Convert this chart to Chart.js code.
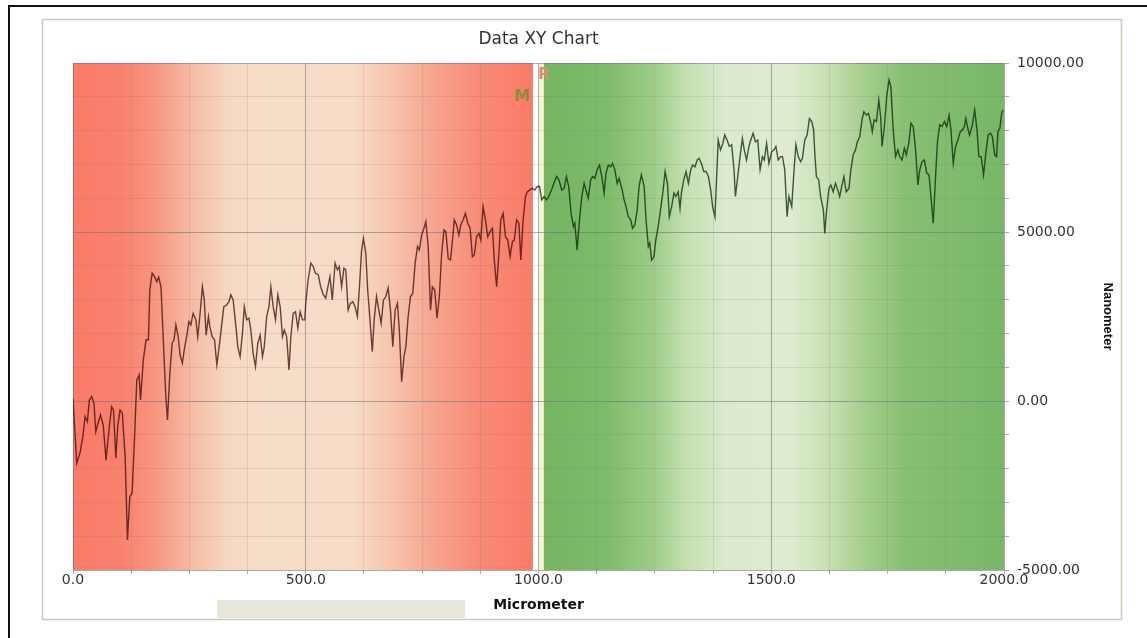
<!DOCTYPE html>
<html>
<head>
<meta charset="utf-8">
<script src="https://cdn.jsdelivr.net/npm/chart.js@4.4.1/dist/chart.umd.min.js"></script>
<style>
  html, body { margin: 0; padding: 0; background: #fff; }
  canvas { display: block; }
</style>
</head>
<body>
<canvas id="chart--xy" width="1147" height="638"></canvas>
<script>
// profile samples: position along the scan (micrometer) and height (nanometer)
const positions = [
  0, 8, 15, 21, 26, 31, 35, 40, 45, 49, 54, 59, 65, 71, 78, 83, 87, 92, 96, 101,
  106, 112, 117, 122, 127, 132, 137, 142, 145, 151, 157, 162, 165, 170, 175, 180, 184, 189, 194, 199,
  203, 208, 213, 217, 221, 226, 230, 235, 239, 244, 249, 253, 258, 264, 268, 273, 278, 282, 286, 291,
  294, 299, 304, 309, 314, 319, 324, 330, 335, 339, 344, 350, 354, 359, 364, 368, 373, 378, 382, 387,
  392, 397, 402, 407, 411, 416, 421, 425, 430, 435, 440, 445, 450, 454, 459, 464, 468, 473, 478, 483,
  488, 493, 498, 500, 505, 511, 516, 521, 527, 532, 538, 543, 547, 552, 557, 563, 568, 572, 577, 582,
  586, 591, 596, 601, 606, 611, 615, 620, 624, 629, 633, 638, 643, 647, 652, 657, 662, 667, 672, 677,
  682, 687, 692, 697, 701, 706, 711, 715, 720, 725, 730, 735, 740, 744, 749, 754, 758, 763, 768, 772,
  777, 782, 787, 792, 797, 801, 806, 811, 816, 819, 824, 829, 833, 838, 843, 848, 853, 858, 862, 867,
  872, 876, 881, 886, 891, 896, 901, 905, 910, 915, 919, 924, 929, 934, 939, 944, 948, 953, 958, 962,
  967, 972, 976, 981, 986, 992, 997, 1002, 1007, 1012, 1017, 1022, 1028, 1033, 1039, 1044, 1050, 1055, 1060, 1065,
  1070, 1075, 1078, 1083, 1088, 1093, 1098, 1102, 1107, 1112, 1116, 1121, 1126, 1131, 1136, 1141, 1145, 1150, 1155, 1159,
  1164, 1169, 1173, 1179, 1184, 1188, 1193, 1198, 1202, 1207, 1212, 1216, 1221, 1227, 1231, 1236, 1239, 1243, 1248, 1252,
  1257, 1262, 1267, 1272, 1277, 1281, 1286, 1291, 1295, 1300, 1304, 1307, 1312, 1317, 1322, 1327, 1331, 1336, 1341, 1345,
  1350, 1355, 1360, 1365, 1370, 1374, 1379, 1383, 1386, 1391, 1396, 1400, 1405, 1410, 1415, 1420, 1423, 1428, 1433, 1438,
  1442, 1447, 1452, 1456, 1461, 1466, 1471, 1476, 1481, 1485, 1490, 1495, 1501, 1506, 1510, 1515, 1520, 1524, 1529, 1534,
  1538, 1544, 1549, 1553, 1558, 1563, 1567, 1572, 1577, 1582, 1587, 1591, 1594, 1597, 1602, 1606, 1612, 1615, 1619, 1624,
  1628, 1633, 1638, 1643, 1647, 1652, 1656, 1661, 1667, 1671, 1676, 1681, 1685, 1690, 1695, 1699, 1704, 1709, 1714, 1717,
  1721, 1726, 1731, 1735, 1738, 1743, 1748, 1753, 1757, 1762, 1767, 1772, 1776, 1781, 1786, 1790, 1796, 1800, 1805, 1810,
  1815, 1819, 1824, 1829, 1834, 1839, 1843, 1848, 1853, 1857, 1862, 1867, 1872, 1877, 1882, 1886, 1891, 1896, 1901, 1906,
  1911, 1915, 1918, 1923, 1926, 1932, 1937, 1942, 1946, 1951, 1956, 1961, 1966, 1971, 1975, 1980, 1984, 1987, 1991, 1995,
  1998
]
const heights = [
  80, -1840, -1540, -1060, -460, -610, 30, 130, -60, -910, -650, -410, -710, -1750, -760, -170, -270, -1690, -760, -270,
  -360, -1650, -4110, -2830, -2720, -1150, 620, 770, 30, 1210, 1810, 1810, 3290, 3780, 3680, 3530, 3660, 3380, 1810, 230,
  -560, 820, 1710, 1810, 2250, 1900, 1360, 1120, 1510, 1900, 2350, 2250, 2590, 2400, 1900, 2590, 3380, 2990, 1950, 2500,
  2200, 1900, 1810, 1070, 1610, 2200, 2790, 2840, 2940, 3140, 2990, 2200, 1610, 1310, 2000, 2790, 2400, 2450, 2100, 1410,
  1020, 1710, 1950, 1310, 1610, 2500, 2790, 3380, 2790, 2400, 3140, 2790, 1900, 2100, 1900, 920, 1900, 2590, 2640, 2150,
  2640, 2400, 2400, 2890, 3580, 4080, 3980, 3780, 3730, 3380, 3140, 3040, 3340, 3680, 2990, 4080, 3880, 3980, 3380, 3930,
  3880, 2690, 2890, 2940, 2790, 2500, 3290, 4470, 4810, 4370, 3290, 2400, 1460, 2400, 3090, 2690, 2300, 2990, 3090, 3340,
  2690, 1610, 2690, 2890, 2100, 570, 1310, 1610, 2500, 3090, 3190, 4080, 4570, 4470, 4910, 5110, 5310, 4570, 2690, 3380,
  3290, 2450, 3090, 4370, 5060, 5010, 4220, 4170, 4860, 5360, 5210, 4910, 5210, 5360, 5550, 5260, 5110, 4270, 4320, 4860,
  4960, 4760, 5750, 5360, 4860, 5010, 5110, 4170, 3380, 4370, 5360, 5550, 4860, 4760, 4270, 4720, 4760, 5360, 5260, 4170,
  5360, 6050, 6190, 6240, 6290, 6240, 6340, 6360, 5950, 6050, 5950, 6050, 6240, 6440, 6640, 6540, 6240, 6290, 6640, 6340,
  5550, 5160, 5260, 4470, 5360, 6050, 6440, 6240, 6000, 6540, 6640, 6590, 6840, 6980, 6640, 6150, 6740, 6980, 6930, 7030,
  6840, 6440, 6590, 6290, 5950, 5750, 5450, 5360, 5110, 5210, 5650, 6340, 6690, 6340, 5360, 4570, 4670, 4170, 4270, 4760,
  5160, 5650, 6150, 6790, 6440, 5450, 5750, 6150, 6050, 6190, 5700, 6150, 6540, 6790, 6440, 6840, 6980, 6930, 7130, 7180,
  7030, 6790, 6790, 6640, 6240, 5750, 5450, 6740, 7720, 7430, 7620, 7870, 7720, 7530, 7580, 6840, 6050, 6640, 7230, 7770,
  7430, 7130, 7530, 7720, 7920, 7670, 7720, 6840, 7230, 7130, 7620, 7030, 7380, 7430, 7530, 7130, 7230, 7230, 6840, 5450,
  6050, 5750, 6840, 7580, 7230, 7080, 7180, 7720, 7870, 8360, 8270, 8020, 7230, 6640, 6540, 6050, 5650, 4960, 5650, 6290,
  6390, 6190, 6440, 6240, 6050, 6390, 6640, 6190, 6290, 6840, 7280, 7430, 7670, 7820, 8320, 8560, 8460, 8510, 8220, 7970,
  8320, 8270, 8910, 8410, 7530, 8120, 9010, 9500, 9300, 8020, 7230, 7430, 7230, 7130, 7480, 7280, 7670, 8220, 8120, 7430,
  6390, 6840, 7080, 7130, 6740, 6690, 6050, 5260, 6640, 7670, 8170, 8120, 8270, 8120, 8460, 8020, 7030, 7530, 7720, 7970,
  8020, 8120, 8360, 8020, 7870, 8170, 8610, 8020, 7230, 7230, 6690, 7330, 7870, 7920, 7820, 7280, 7230, 7970, 8070, 8510,
  8610
]

// x ranges of the two shaded zones and the marker gap between them
const redZone = [0, 988]
const greenZone = [1011, 2000]
const creamStrip = [1001, 1011]

// gradient stops along x for each zone
const redStops = [
  [0, '#fa7b68'], [100, '#f9816e'], [170, '#f7937e'], [250, '#f6b9a1'], [330, '#f6d7c1'],
  [400, '#f6ddc7'], [600, '#f6dcc6'], [680, '#f6c6ae'], [770, '#f7a690'], [870, '#f88b77'], [988, '#fa7c68']
]
const greenStops = [
  [1011, '#74b562'], [1140, '#7cbb69'], [1240, '#9acb85'], [1320, '#c6e0b2'], [1400, '#dbe9cc'],
  [1540, '#deebcf'], [1620, '#c9e0b4'], [1700, '#a4ce8d'], [1790, '#87c073'], [2000, '#78b767']
]

const markers = [
  { text: 'M', x: 982, y: 9000, color: '#8d8b3b', align: 'right' },
  { text: 'R', x: 999, y: 9640, color: '#df8d72', align: 'left' }
]

const chartTitle = 'Data XY Chart'

Chart.defaults.font.family = "'DejaVu Sans', 'Liberation Sans', Arial, sans-serif"
Chart.defaults.color = '#333'

var points = positions.map(function (x, i) { return { x: x, y: heights[i] } })

function zoneGradient(ctx, xs, stops) {
  var x0 = xs.getPixelForValue(stops[0][0])
  var x1 = xs.getPixelForValue(stops[stops.length - 1][0])
  var g = ctx.createLinearGradient(x0, 0, x1, 0)
  var span = stops[stops.length - 1][0] - stops[0][0]
  stops.forEach(function (s) { g.addColorStop((s[0] - stops[0][0]) / span, s[1]) })
  return g
}

function fillZone(ctx, xs, area, range) {
  var x0 = xs.getPixelForValue(range[0])
  var x1 = xs.getPixelForValue(range[1])
  ctx.fillRect(x0, area.top, x1 - x0, area.bottom - area.top)
}

// frame, panel, shaded zones and the scroll thumb under the chart
const backdrop = {
  id: 'backdrop',
  beforeDraw(chart) {
    const ctx = chart.ctx
    const area = chart.chartArea
    const xs = chart.scales.x
    ctx.save()
    ctx.fillStyle = '#fff'
    ctx.fillRect(0, 0, chart.width, chart.height)

    ctx.strokeStyle = '#111'
    ctx.lineWidth = 2
    ctx.strokeRect(9, 6, 1170, 700)

    ctx.strokeStyle = '#c9c9b8'
    ctx.lineWidth = 1.5
    ctx.strokeRect(42.5, 19.5, 1079, 600)

    ctx.fillStyle = zoneGradient(ctx, xs, redStops)
    fillZone(ctx, xs, area, redZone)
    ctx.fillStyle = zoneGradient(ctx, xs, greenStops)
    fillZone(ctx, xs, area, greenZone)
    ctx.fillStyle = '#f7f4d2'
    fillZone(ctx, xs, area, creamStrip)

    ctx.fillStyle = '#e9e7dc'
    ctx.fillRect(217, 600, 248, 18)

    // title sits over the plot area, not the whole canvas
    ctx.fillStyle = '#333'
    ctx.font = "17px 'DejaVu Sans', Arial, sans-serif"
    ctx.textAlign = 'center'
    ctx.textBaseline = 'middle'
    ctx.fillText(chartTitle, (area.left + area.right) / 2, 40)
    ctx.restore()
  },
  afterDatasetsDraw(chart) {
    const ctx = chart.ctx
    const xs = chart.scales.x
    const ys = chart.scales.y
    ctx.save()
    ctx.font = "bold 16px 'DejaVu Sans', Arial, sans-serif"
    ctx.textBaseline = 'middle'
    markers.forEach(function (m) {
      ctx.fillStyle = m.color
      ctx.textAlign = m.align
      ctx.fillText(m.text, xs.getPixelForValue(m.x), ys.getPixelForValue(m.y))
    })
    ctx.restore()
  }
}

const minorGrid = 'rgba(120, 100, 100, 0.15)'
const majorGrid = 'rgba(110, 110, 120, 0.55)'

const ctx = document.getElementById('chart--xy').getContext('2d')
const chart__xy = new Chart(ctx, {
  type: 'line',
  data: {
    datasets: [{
      data: points,
      borderWidth: 1.4,
      pointRadius: 0,
      tension: 0,
      segment: {
        borderColor: function (c) { return c.p0.parsed.x < 1000 ? 'rgba(60, 8, 8, 0.74)' : 'rgba(10, 40, 10, 0.76)' }
      }
    }]
  },
  options: {
    responsive: false,
    animation: false,
    devicePixelRatio: 1,
    layout: { padding: { left: 73, right: 28, top: 63, bottom: 20 } },
    plugins: {
      legend: { display: false },
      tooltip: { enabled: false },
      title: { display: false }
    },
    scales: {
      x: {
        type: 'linear',
        min: 0,
        max: 2000,
        ticks: {
          stepSize: 125,
          autoSkip: false,
          maxRotation: 0,
          padding: -2,
          font: { size: 14 },
          color: '#333',
          callback: function (v) { return v % 500 === 0 ? v.toFixed(1) : '' }
        },
        grid: {
          color: function (c) { return c.tick && c.tick.value % 500 === 0 ? majorGrid : minorGrid },
          tickColor: '#aaa',
          tickLength: 4
        },
        border: { color: '#aaa' },
        title: {
          display: true,
          text: 'Micrometer',
          color: '#111',
          font: { size: 14, weight: 'bold' },
          padding: { top: 2, bottom: 4 }
        },
        afterFit: function (scale) { scale.height = 48 }
      },
      y: {
        type: 'linear',
        position: 'right',
        min: -5000,
        max: 10000,
        ticks: {
          stepSize: 1000,
          autoSkip: false,
          padding: 8,
          font: { size: 14 },
          color: '#333',
          callback: function (v) { return v % 5000 === 0 ? v.toFixed(2) : '' }
        },
        grid: {
          color: function (c) { return c.tick && c.tick.value % 5000 === 0 ? majorGrid : minorGrid },
          tickColor: '#aaa',
          tickLength: 5
        },
        border: { color: '#aaa' },
        title: {
          display: true,
          text: 'Nanometer',
          color: '#111',
          font: { family: "'Liberation Sans', Arial, sans-serif", size: 13, weight: 'bold' },
          padding: { top: 4, bottom: 4 }
        },
        afterFit: function (scale) { scale.width = 115 }
      }
    }
  },
  plugins: [backdrop]
})
</script>
</body>
</html>
